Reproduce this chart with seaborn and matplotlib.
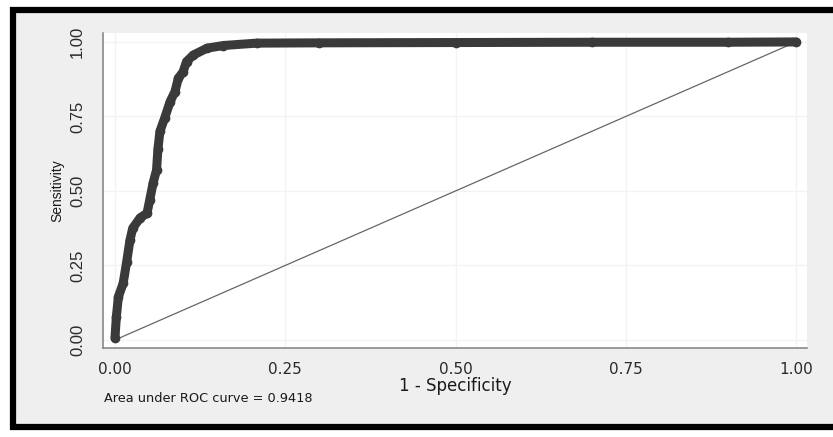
import matplotlib
matplotlib.use("Agg")
import matplotlib.pyplot as plt
import seaborn as sns
from matplotlib.patches import Rectangle

# ROC curve points
fpr = [0.000, 0.002, 0.005, 0.012, 0.017, 0.022, 0.026, 0.037, 0.047, 0.051,
       0.056, 0.061, 0.063, 0.066, 0.073, 0.081, 0.088, 0.093, 0.100, 0.105,
       0.115, 0.135, 0.159, 0.208, 0.300, 0.500, 0.700, 0.900, 1.000]
tpr = [0.007, 0.078, 0.145, 0.190, 0.260, 0.335, 0.375, 0.410, 0.425, 0.470,
       0.527, 0.570, 0.640, 0.700, 0.745, 0.800, 0.833, 0.878, 0.900, 0.934,
       0.956, 0.979, 0.988, 0.996, 0.997, 0.998, 0.999, 0.999, 1.000]
ref_line = [0, 1]
ticks = [0.0, 0.25, 0.5, 0.75, 1.0]
tick_labels = ["0.00", "0.25", "0.50", "0.75", "1.00"]
auc_text = "Area under ROC curve = 0.9418"

sns.set_theme(style="white")
plt.rcParams['font.family'] = ['Liberation Sans', 'DejaVu Sans']

W, H = 833, 437
fig = plt.figure(figsize=(W / 100, H / 100), dpi=100)
fig.patch.set_facecolor("white")

# Stata-style grey panel with a heavy black frame
frame = Rectangle((13 / W, (H - 427) / H), (850 - 13) / W, (427 - 10) / H,
                  transform=fig.transFigure, facecolor="#efefef",
                  edgecolor="black", linewidth=4.5, zorder=-1)
fig.patches.append(frame)

ax = fig.add_axes([103 / W, (H - 348) / H, (807 - 103) / W, (348 - 33) / H])
ax.set_facecolor("white")

ax.plot(ref_line, ref_line, color="#666666", lw=0.9, zorder=2)
sns.lineplot(x=fpr, y=tpr, ax=ax, estimator=None, sort=False,
             color="#3a3a3a", lw=6.5, marker="o", markersize=7,
             markeredgewidth=0, solid_capstyle="round",
             solid_joinstyle="round", zorder=3)

ax.set_xlim(-0.0176, 1.016)
ax.set_ylim(-0.027, 1.03)

ax.set_xticks(ticks)
ax.set_xticklabels(tick_labels, family="DejaVu Sans", fontsize=11, color="#2a2a2a")
ax.set_yticks(ticks)
ax.set_yticklabels(tick_labels, rotation=90, va="center", fontsize=12, color="#2a2a2a")

ax.grid(True, color="#f3f3f3", lw=1)
for s in ["top", "right"]:
    ax.spines[s].set_visible(False)
for s in ["left", "bottom"]:
    ax.spines[s].set_color("#808080")
    ax.spines[s].set_linewidth(1.1)
ax.tick_params(axis="both", direction="out", length=4, width=1, color="#808080")
ax.tick_params(axis="x", pad=6)
ax.tick_params(axis="y", pad=9)

ax.set_xlabel("1 - Specificity", family="DejaVu Sans", fontsize=12,
              color="#1a1a1a", labelpad=0)
ax.set_ylabel("Sensitivity", fontsize=10, color="#1a1a1a", labelpad=4)

fig.text(104 / W, (H - 398) / H, auc_text, family="DejaVu Sans", fontsize=9.3,
         color="#1a1a1a", va="center", ha="left")

fig.savefig("out.png", dpi=100)
